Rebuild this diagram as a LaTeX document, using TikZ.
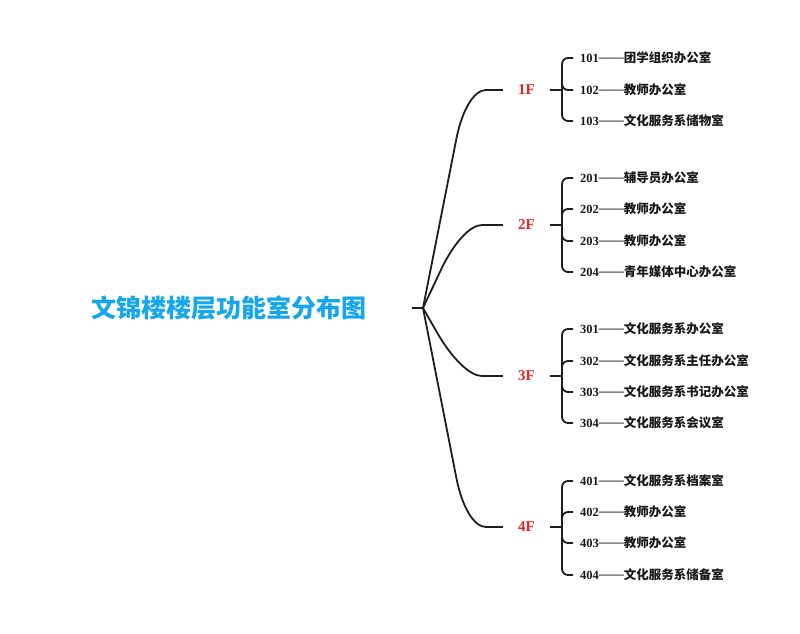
\documentclass[tikz,border=0pt]{standalone}
\usepackage{fontspec}
\usetikzlibrary{calc}
\setmainfont{Liberation Serif}
\newfontfamily\cjk{Noto Sans CJK SC}
\definecolor{rootblue}{RGB}{22,166,236}
\definecolor{floorred}{RGB}{232,36,36}
\definecolor{linegray}{RGB}{30,30,30}
\newcommand\roomtxt[2]{#1\raisebox{0.08em}{——}{\cjk #2}}
\begin{document}
\begin{tikzpicture}[x=1pt,y=-1pt,
  conn/.style={draw=linegray, line width=1.8pt},
  rootlbl/.style={font=\cjk\bfseries\fontsize{25}{30}\selectfont, text=rootblue},
  floorlbl/.style={font=\bfseries\fontsize{15}{18}\selectfont, text=floorred, inner xsep=15pt},
  item/.style={font=\bfseries\fontsize{12.5}{15}\selectfont, text=black!90, anchor=west, inner xsep=7pt}]
\useasboundingbox[fill=white] (0,0) rectangle (800,633);

\node[rootlbl] (root) at (229,308) {文锦楼楼层功能室分布图};
\coordinate (rs) at (412,308);
\coordinate (hub) at (423,308);
\draw[conn] (rs) -- (hub);

% floors
\node[floorlbl] (f1) at (526.5,90) {1F};
\node[floorlbl] (f2) at (526.5,225) {2F};
\node[floorlbl] (f3) at (526.5,376) {3F};
\node[floorlbl] (f4) at (526.5,527) {4F};

\coordinate (c1) at (466,90);
\coordinate (c2) at (462,225);
\coordinate (c3) at (462,376);
\coordinate (c4) at (466,527);

\foreach \i in {1,2,3,4}{
  \coordinate (a\i) at ($(c\i)!50pt!(hub)$);
  \coordinate (b\i) at ([xshift=20pt]c\i);
  \draw[conn] (hub) -- (a\i) .. controls ($(a\i)!0.6!(c\i)$) and ($(b\i)!0.6!(c\i)$) .. (b\i) -- (f\i.west);
}

% items 1F
\node[item] (r101) at (573,58) {\roomtxt{101}{团学组织办公室}};
\node[item] (r102) at (573,90) {\roomtxt{102}{教师办公室}};
\node[item] (r103) at (573,121) {\roomtxt{103}{文化服务系储物室}};
% items 2F
\node[item] (r201) at (573,178) {\roomtxt{201}{辅导员办公室}};
\node[item] (r202) at (573,209) {\roomtxt{202}{教师办公室}};
\node[item] (r203) at (573,241) {\roomtxt{203}{教师办公室}};
\node[item] (r204) at (573,272) {\roomtxt{204}{青年媒体中心办公室}};
% items 3F
\node[item] (r301) at (573,329) {\roomtxt{301}{文化服务系办公室}};
\node[item] (r302) at (573,361) {\roomtxt{302}{文化服务系主任办公室}};
\node[item] (r303) at (573,392) {\roomtxt{303}{文化服务系书记办公室}};
\node[item] (r304) at (573,423) {\roomtxt{304}{文化服务系会议室}};
% items 4F
\node[item] (r401) at (573,481) {\roomtxt{401}{文化服务系档案室}};
\node[item] (r402) at (573,512) {\roomtxt{402}{教师办公室}};
\node[item] (r403) at (573,543) {\roomtxt{403}{教师办公室}};
\node[item] (r404) at (573,575) {\roomtxt{404}{文化服务系储备室}};

\foreach \f/\list in {f1/{r101,r102,r103},f2/{r201,r202,r203,r204},f3/{r301,r302,r303,r304},f4/{r401,r402,r403,r404}}{
  \draw[conn] (\f.east) -- ++(12,0);
  \foreach \r in \list {
    \draw[conn, rounded corners=6pt] ([xshift=12pt]\f.east) |- (\r.west);
  }
}
\end{tikzpicture}
\end{document}
